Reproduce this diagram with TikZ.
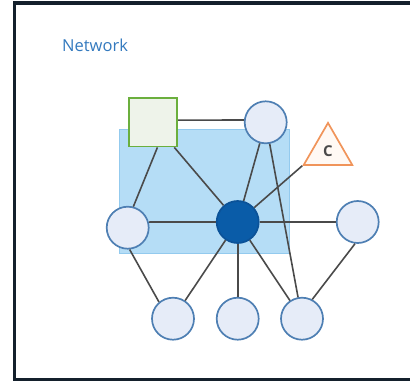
\documentclass[tikz,border=0pt]{standalone}
\usepackage{fontspec}
\setmainfont{Open Sans}
\usetikzlibrary{positioning,shapes.geometric}

\definecolor{framecol}{HTML}{14202C}
\definecolor{titleblue}{HTML}{3379BE}
\definecolor{zonefill}{HTML}{B5DDF6}
\definecolor{zoneline}{HTML}{93CAEE}
\definecolor{peerfill}{HTML}{E6ECF8}
\definecolor{peerline}{HTML}{4E7FB3}
\definecolor{hubfill}{HTML}{0A5CA8}
\definecolor{hubline}{HTML}{0B5298}
\definecolor{servfill}{HTML}{EEF3EA}
\definecolor{servline}{HTML}{6BAF3D}
\definecolor{clientfill}{HTML}{FFF9F4}
\definecolor{clientline}{HTML}{F0945A}
\definecolor{ctext}{HTML}{4A4A4A}
\definecolor{linkcol}{HTML}{4A4A4A}

\begin{document}
\begin{tikzpicture}[
    x=1pt, y=-1pt,
    node distance=100pt, on grid,
    peer/.style={draw=peerline, fill=peerfill, circle, line width=1.7pt, minimum size=42pt, inner sep=0pt},
    hubnode/.style={peer, draw=hubline, fill=hubfill},
    server/.style={draw=servline, fill=servfill, rectangle, line width=1.7pt, minimum size=48.5pt, inner sep=0pt},
    client/.style={draw=clientline, fill=clientfill, regular polygon, regular polygon sides=3, line width=1.7pt, minimum size=56pt, inner sep=0pt, text=ctext, font=\bfseries\fontsize{15}{15}\selectfont},
    link/.style={draw=linkcol, line width=1.6pt}
]
  \useasboundingbox (0,0) rectangle (410,381);
  \clip (0,0) rectangle (410,381);
  \draw[framecol, line width=3.5pt] (14.3,2.8) rectangle (425,379.6);

  \node[anchor=base west, inner sep=0pt, text=titleblue, font=\fontsize{16.5}{18}\selectfont] (title) at (62,51) {Network};

  % Zone behind the hub
  \draw[draw=zoneline, fill=zonefill, line width=1pt] (119.5,129.5) rectangle (289.5,253);

  % Middle row
  \node[hubnode] (hub) at (237.7,222) {};
  \node[peer] (peerL) [below left=5.7pt and 110pt of hub] {};
  \node[peer] (peerR) [right=120pt of hub] {};

  % Top row
  \node[peer] (peerT) [above right=99.7pt and 28pt of hub] {};
  \node[server] (srv) [left=112.7pt of peerT] {};
  \node[client] (cli) [below right=28.6pt and 62.3pt of peerT] {C};

  % Bottom row
  \node[peer] (peerB2) [below=96.7pt of hub] {};
  \node[peer] (peerB1) [left=64.7pt of peerB2] {};
  \node[peer] (peerB3) [right=64.3pt of peerB2] {};

  % Links
  \draw[link] (srv.5) -- (peerT.174);
  \draw[link] (srv.-80) -- (peerL.75);
  \draw[link] (srv) -- (hub);
  \draw[link] (peerT) -- (hub);
  \draw[link] (peerT) -- (peerB3);
  \draw[link] (cli.corner 2) -- (hub);
  \draw[link] (peerL.15) -- (hub);
  \draw[link] (hub) -- (peerR);
  \draw[link] (peerL.-85) -- (peerB1.130);
  \draw[link] (hub) -- (peerB1);
  \draw[link] (hub) -- (peerB2);
  \draw[link] (hub) -- (peerB3);
  \draw[link] (peerR.-97) -- (peerB3.62);
\end{tikzpicture}
\end{document}
